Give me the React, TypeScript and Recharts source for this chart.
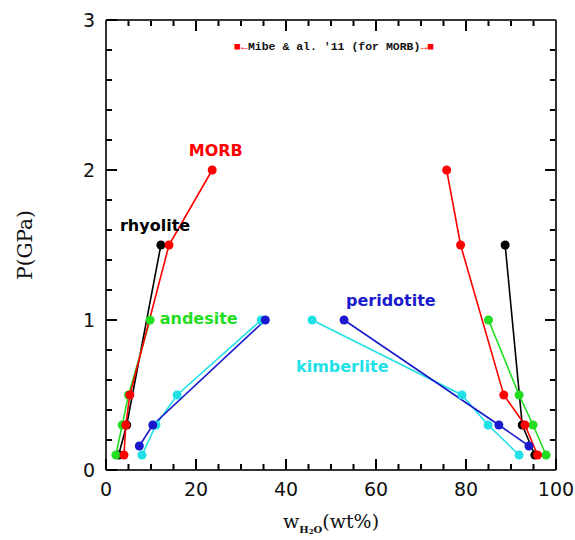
import React from "react";
import { ComposedChart, Line, XAxis, YAxis, ReferenceDot, ReferenceLine } from "recharts";

// Left branches (melt side) and right branches (fluid side), w in wt%, p in GPa
const rhyoliteLeft = [{ w: 12.2, p: 1.5 }, { w: 4.6, p: 0.3 }, { w: 2.8, p: 0.1 }];
const rhyoliteRight = [{ w: 88.7, p: 1.5 }, { w: 92.5, p: 0.3 }, { w: 95.3, p: 0.1 }];
const andesiteLeft = [{ w: 9.8, p: 1.0 }, { w: 5.0, p: 0.5 }, { w: 3.6, p: 0.3 }, { w: 2.2, p: 0.1 }];
const andesiteRight = [{ w: 85.0, p: 1.0 }, { w: 91.8, p: 0.5 }, { w: 94.9, p: 0.3 }, { w: 97.8, p: 0.1 }];
const morbLeft = [{ w: 23.6, p: 2.0 }, { w: 14.0, p: 1.5 }, { w: 5.3, p: 0.5 }, { w: 4.4, p: 0.3 }, { w: 4.0, p: 0.1 }];
const morbRight = [{ w: 75.7, p: 2.0 }, { w: 78.8, p: 1.5 }, { w: 88.4, p: 0.5 }, { w: 93.1, p: 0.3 }, { w: 95.9, p: 0.1 }];
const peridotiteLeft = [{ w: 35.4, p: 1.0 }, { w: 10.4, p: 0.3 }, { w: 7.4, p: 0.16 }];
const peridotiteRight = [{ w: 52.9, p: 1.0 }, { w: 87.3, p: 0.3 }, { w: 94.0, p: 0.16 }];
const kimberliteLeft = [{ w: 34.5, p: 1.0 }, { w: 15.8, p: 0.5 }, { w: 11.1, p: 0.3 }, { w: 8.0, p: 0.1 }];
const kimberliteRight = [{ w: 45.8, p: 1.0 }, { w: 79.1, p: 0.5 }, { w: 84.9, p: 0.3 }, { w: 91.8, p: 0.1 }];

const xTicks = [0, 5, 10, 15, 20, 25, 30, 35, 40, 45, 50, 55, 60, 65, 70, 75, 80, 85, 90, 95, 100];
const yTicks = [0, 0.2, 0.4, 0.6, 0.8, 1, 1.2, 1.4, 1.6, 1.8, 2, 2.2, 2.4, 2.6, 2.8, 3];
const xMajor = [0, 20, 40, 60, 80, 100];
const yMajor = [0, 1, 2, 3];

const seriesLabels = [
  { text: "MORB", w: 24.4, p: 2.13, color: "#ff0000" },
  { text: "rhyolite", w: 10.9, p: 1.63, color: "#000000" },
  { text: "andesite", w: 20.6, p: 1.01, color: "#22dd22" },
  { text: "peridotite", w: 63.3, p: 1.13, color: "#1a1acc" },
  { text: "kimberlite", w: 52.5, p: 0.69, color: "#22e0e8" },
];

const AXIS = "#333333";
const TICK = "#000000";
const OFF = 8; // tickSize + tickMargin: distance from axis line to tick anchor
const isMajor = (v: number, list: number[]) => list.some((m) => Math.abs(m - v) < 1e-6);
// inward tick lengths expressed in axis units (major 11px, minor 6px)
const X_MAJ = 2.45, X_MIN = 1.35, Y_MAJ = 0.074, Y_MIN = 0.04;

const bottomTick = (props: any) => {
  const x = Number(props.x);
  const y = Number(props.y) - OFF;
  const v = props.payload.value;
  const major = isMajor(v, xMajor);
  const len = major ? 11 : 6;
  return (
    <g>
      <line x1={x} y1={y} x2={x} y2={y - len} stroke={TICK} strokeWidth={2} />
      {major && (
        <text x={x} y={y + 26} textAnchor="middle" fontSize={19} fontFamily="DejaVu Sans" fill="#111">
          {v}
        </text>
      )}
    </g>
  );
};
const leftTick = (props: any) => {
  const x = Number(props.x) + OFF;
  const y = Number(props.y);
  const v = props.payload.value;
  const major = isMajor(v, yMajor);
  const len = major ? 11 : 6;
  return (
    <g>
      <line x1={x} y1={y} x2={x + len} y2={y} stroke={TICK} strokeWidth={2} />
      {major && (
        <text x={x - 11} y={y + 7} textAnchor="end" fontSize={19} fontFamily="DejaVu Sans" fill="#111">
          {v}
        </text>
      )}
    </g>
  );
};
const noTick = () => <g />;

const series = [
  { key: "rl", data: rhyoliteLeft, color: "#000000" },
  { key: "rr", data: rhyoliteRight, color: "#000000" },
  { key: "al", data: andesiteLeft, color: "#22dd22" },
  { key: "ar", data: andesiteRight, color: "#22dd22" },
  { key: "ml", data: morbLeft, color: "#ff0000" },
  { key: "mr", data: morbRight, color: "#ff0000" },
  { key: "kl", data: kimberliteLeft, color: "#22e0e8" },
  { key: "kr", data: kimberliteRight, color: "#22e0e8" },
  { key: "pl", data: peridotiteLeft, color: "#1a1acc" },
  { key: "pr", data: peridotiteRight, color: "#1a1acc" },
];

const Empty = () => <g />;

export default function App() {
  const tickSegs: any[] = [];
  xTicks.forEach((v) => {
    const lenY = isMajor(v, xMajor) ? Y_MAJ : Y_MIN;
    tickSegs.push([{ x: v, y: 3 }, { x: v, y: 3 - lenY }]);
  });
  yTicks.forEach((v) => {
    const len = isMajor(v, yMajor) ? X_MAJ : X_MIN;
    tickSegs.push([{ x: 100, y: v }, { x: 100 - len, y: v }]);
  });

  return (
    <div style={{ position: "absolute", left: 0, top: 0, background: "#fff" }}>
      <ComposedChart width={575} height={540} margin={{ top: 0, right: 0, bottom: 0, left: 0 }}>
        <XAxis xAxisId="b" type="number" dataKey="w" domain={[0, 100]} ticks={xTicks} interval={0} height={70}
          tickSize={8} tickMargin={0} tickLine={false} tick={bottomTick} stroke={AXIS} axisLine={{ stroke: AXIS, strokeWidth: 2 }} allowDataOverflow />
        <XAxis xAxisId="t" type="number" dataKey="w" domain={[0, 100]} ticks={xTicks} interval={0} orientation="top" height={20}
          tickSize={8} tickMargin={0} tickLine={false} tick={noTick} stroke={AXIS} axisLine={{ stroke: AXIS, strokeWidth: 2 }} allowDataOverflow />
        <YAxis yAxisId="l" type="number" domain={[0, 3]} ticks={yTicks} interval={0} width={106}
          tickSize={8} tickMargin={0} tickLine={false} tick={leftTick} stroke={AXIS} axisLine={{ stroke: AXIS, strokeWidth: 2 }} allowDataOverflow />
        <YAxis yAxisId="r" type="number" domain={[0, 3]} ticks={yTicks} interval={0} orientation="right" width={19}
          tickSize={8} tickMargin={0} tickLine={false} tick={noTick} stroke={AXIS} axisLine={{ stroke: AXIS, strokeWidth: 2 }} allowDataOverflow />
        {tickSegs.map((seg, i) => (
          <ReferenceLine
            key={`tk${i}`}
            xAxisId="b"
            yAxisId="l"
            segment={seg}
            stroke={TICK}
            strokeWidth={2}
            ifOverflow="visible"
          />
        ))}
        {series.map((s, i) => (
          <Line
            key={s.key}
            xAxisId={i % 2 === 0 ? "b" : "t"}
            yAxisId={i % 2 === 0 ? "l" : "r"}
            data={s.data}
            dataKey="p"
            type="linear"
            stroke={s.color}
            strokeWidth={1.6}
            dot={{ r: 4.5, fill: s.color, stroke: s.color, strokeWidth: 0 }}
            isAnimationActive={false}
          />
        ))}
        {seriesLabels.map((l) => (
          <ReferenceDot
            key={l.text}
            xAxisId="b"
            yAxisId="l"
            x={l.w}
            y={l.p}
            r={0}
            shape={<Empty />}
            label={{
              value: l.text,
              position: "center",
              fill: l.color,
              fontSize: 16,
              fontWeight: "bold",
              fontFamily: "DejaVu Sans",
            }}
          />
        ))}
        <ReferenceDot
          xAxisId="b"
          yAxisId="l"
          x={50.7}
          y={2.83}
          r={0}
          shape={<Empty />}
          label={(props: any) => {
            const vb = props.viewBox || {};
            const cx = (vb.x ?? 0) + (vb.width ?? 0) / 2;
            const cy = (vb.y ?? 0) + (vb.height ?? 0) / 2;
            return (
              <text x={cx} y={cy + 4} textAnchor="middle" fontSize={11.5} fontWeight="bold" fontFamily="Liberation Mono">
                <tspan fill="#ff0000">■←</tspan>
                <tspan fill="#111">Mibe &amp; al. '11 (for MORB)</tspan>
                <tspan fill="#ff0000">→■</tspan>
              </text>
            );
          }}
        />
        <text x={32} y={245} transform="rotate(-90 32 245)" textAnchor="middle" fontSize={20} fontFamily="DejaVu Serif" fill="#111">
          P(GPa)
        </text>
        <text x={331} y={528} textAnchor="middle" fontSize={19} fontFamily="DejaVu Serif" fill="#111">
          w<tspan fontSize={10} fontWeight="bold" dy={5}>H</tspan>
          <tspan fontSize={7} fontWeight="bold" dy={1}>2</tspan>
          <tspan fontSize={10} fontWeight="bold" dy={-1}>O</tspan>
          <tspan dy={-5}>(wt%)</tspan>
        </text>
      </ComposedChart>
    </div>
  );
}
